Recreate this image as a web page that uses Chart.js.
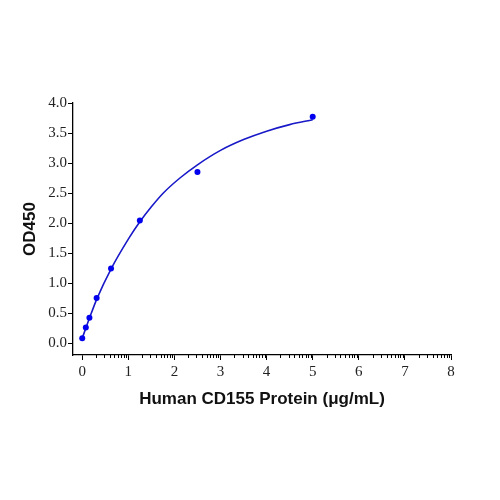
<!DOCTYPE html>
<html>
<head>
<meta charset="utf-8">
<script src="https://cdn.jsdelivr.net/npm/chart.js@4"></script>
<style>
    html, body { margin: 0; padding: 0; background: #fff; }
    #wrap { width: 500px; height: 500px; }
</style>
</head>
<body>
<div id="wrap"><canvas id="odChart" width="500" height="500"></canvas></div>
<script>
    // measured points (µg/mL vs OD450)
    const concentrations = [0, 0.078, 0.156, 0.3125, 0.625, 1.25, 2.5, 5];
    const odValues = [0.08, 0.26, 0.42, 0.75, 1.24, 2.04, 2.85, 3.77];

    // fitted curve
    const curveX = [0, 0.16, 0.32, 0.63, 1.0, 1.25, 1.5, 1.76, 2.12, 2.5, 3.0, 3.5, 4.0, 4.5, 5];
    const curveY = [0.08, 0.42, 0.74, 1.24, 1.73, 2.02, 2.27, 2.50, 2.75, 2.97, 3.21, 3.39, 3.53, 3.64, 3.72];

    const xTicks = [0, 1, 2, 3, 4, 5, 6, 7, 8];
    const yTicks = [0, 0.5, 1, 1.5, 2, 2.5, 3, 3.5, 4];

    const toPoints = (xs, ys) => xs.map((x, i) => ({x, y: ys[i]}));

    // the original axis has small log-style ticks inside every unit
    const minorTicks = {
        id: 'minorTicks',
        afterDraw(chart) {
            const {ctx, scales: {x}} = chart;
            ctx.save();
            ctx.strokeStyle = '#000';
            ctx.lineWidth = 1;
            ctx.beginPath();
            for (let i = 0; i < xTicks.length - 1; i++) {
                for (let k = 2; k < 10; k++) {
                    const px = Math.round(x.getPixelForValue(xTicks[i] + Math.log10(k))) + 0.5;
                    ctx.moveTo(px, x.top);
                    ctx.lineTo(px, x.top + 3);
                }
            }
            ctx.stroke();
            ctx.restore();
        }
    };

    const tickFont = {family: '"Liberation Serif", "Times New Roman", serif', size: 15};
    const titleFont = {family: '"Liberation Sans", Arial, sans-serif', size: 17, weight: 'bold'};

    new Chart(document.getElementById('odChart'), {
        type: 'scatter',
        data: {
            datasets: [
                {
                    label: 'fit',
                    data: toPoints(curveX, curveY),
                    showLine: true,
                    borderColor: '#1818c8',
                    borderWidth: 1.6,
                    pointRadius: 0,
                    cubicInterpolationMode: 'monotone',
                    order: 2
                },
                {
                    label: 'OD450',
                    data: toPoints(concentrations, odValues),
                    backgroundColor: '#0000ee',
                    borderColor: '#0000ee',
                    pointRadius: 3,
                    borderWidth: 0,
                    order: 1
                }
            ]
        },
        options: {
            responsive: false,
            animation: false,
            layout: {
                padding: {left: 0, right: 49, top: 103, bottom: 80}
            },
            plugins: {
                legend: {display: false},
                tooltip: {enabled: false}
            },
            scales: {
                x: {
                    type: 'linear',
                    min: -0.2,
                    max: 8,
                    afterFit: scale => { scale.height = 65; },
                    afterBuildTicks: scale => { scale.ticks = xTicks.map(value => ({value})); },
                    border: {display: true, color: '#000', width: 1.3},
                    grid: {drawOnChartArea: false, drawTicks: true, tickLength: 5, color: '#000'},
                    ticks: {
                        font: tickFont,
                        color: '#222',
                        padding: 3,
                        maxRotation: 0,
                        callback: v => String(v)
                    },
                    title: {
                        display: true,
                        text: 'Human CD155 Protein (μg/mL)',
                        font: titleFont,
                        color: '#111',
                        padding: {top: 0, bottom: 10}
                    }
                },
                y: {
                    type: 'linear',
                    min: -0.2,
                    max: 4,
                    afterFit: scale => { scale.width = 73; },
                    afterBuildTicks: scale => { scale.ticks = yTicks.map(value => ({value})); },
                    border: {display: true, color: '#000', width: 1.3},
                    grid: {drawOnChartArea: false, drawTicks: true, tickLength: 5, color: '#000'},
                    ticks: {
                        font: tickFont,
                        color: '#222',
                        padding: 1,
                        callback: v => v.toFixed(1)
                    },
                    title: {
                        display: true,
                        text: 'OD450',
                        font: titleFont,
                        color: '#111',
                        padding: {top: 20, bottom: 0}
                    }
                }
            }
        },
        plugins: [minorTicks]
    });
</script>
</body>
</html>
